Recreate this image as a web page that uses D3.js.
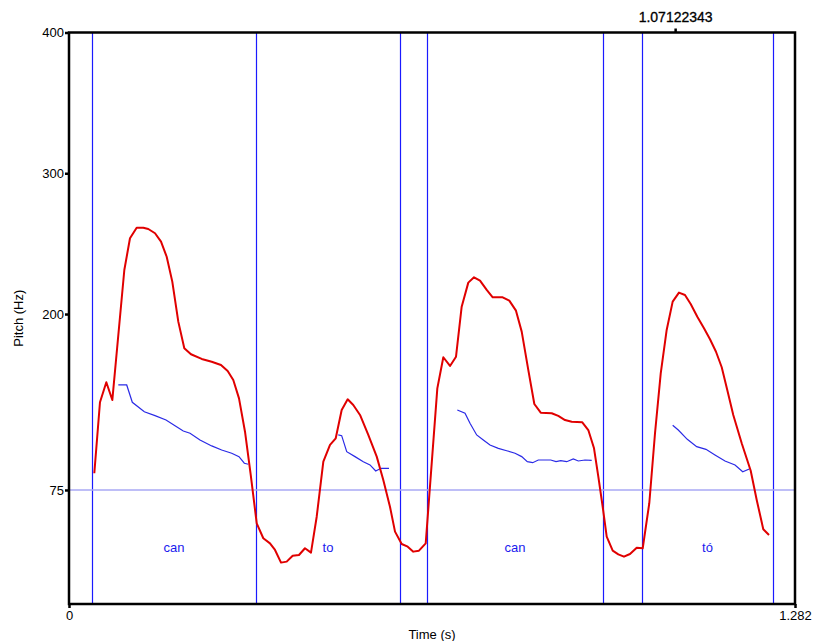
<!DOCTYPE html>
<html>
<head>
<meta charset="utf-8">
<script src="https://cdn.jsdelivr.net/npm/d3@7"></script>
<style>
  body { margin: 0; background: #fff; }
  text { font-family: "Liberation Sans", Arial, sans-serif; }
</style>
</head>
<body>
<script>
var width = 813,
    height = 641,
    margin = {top: 32.5, right: 18, bottom: 37, left: 69};

// pitch contour (red), seconds / Hz
var pitchTime = [0.0447, 0.0547, 0.0659, 0.0765, 0.0977, 0.1077, 0.1195, 0.1312, 0.1400, 0.1519,
    0.1625, 0.1725, 0.1824, 0.1930, 0.2036, 0.2154, 0.2343, 0.2520, 0.2684, 0.2802,
    0.2901, 0.3002, 0.3108, 0.3209, 0.3315, 0.3431, 0.3549, 0.3638, 0.3744, 0.3844,
    0.3950, 0.4061, 0.4167, 0.4273, 0.4374, 0.4491, 0.4609, 0.4710, 0.4815, 0.4921,
    0.5020, 0.5139, 0.5285, 0.5434, 0.5550, 0.5668, 0.5757, 0.5875, 0.5981, 0.6080,
    0.6180, 0.6299, 0.6504, 0.6610, 0.6728, 0.6834, 0.6934, 0.7051, 0.7152, 0.7258,
    0.7376, 0.7482, 0.7658, 0.7775, 0.7893, 0.7994, 0.8111, 0.8217, 0.8330, 0.8524,
    0.8640, 0.8759, 0.8877, 0.9064, 0.9170, 0.9271, 0.9347, 0.9424, 0.9495, 0.9601,
    0.9700, 0.9800, 0.9906, 1.0025, 1.0131, 1.0247, 1.0348, 1.0449, 1.0554, 1.0660,
    1.0771, 1.0877, 1.0978, 1.1095, 1.1213, 1.1319, 1.1425, 1.1526, 1.1624, 1.1730,
    1.1879, 1.2038, 1.2144, 1.2260, 1.2361];
var pitchHz = [86.9, 137.3, 151.5, 138.9, 231.3, 253.8, 261.3, 261.3, 260.4, 257.4,
    251.4, 240.7, 223.0, 194.6, 175.7, 171.4, 168.1, 166.1, 163.8, 159.5,
    153.1, 140.1, 116.4, 85.7, 51.3, 40.7, 37.1, 32.4, 23.4, 24.1,
    28.3, 28.8, 33.6, 30.5, 56.0, 95.1, 107.0, 111.7, 131.8, 139.4,
    135.4, 128.3, 114.1, 98.7, 82.1, 63.1, 45.4, 36.6, 34.7, 31.2,
    31.9, 37.1, 147.2, 169.3, 163.1, 169.7, 205.2, 222.3, 226.1, 223.7,
    217.1, 211.9, 211.9, 209.5, 202.4, 187.5, 160.2, 136.1, 129.9, 129.5,
    127.6, 124.7, 123.5, 123.1, 117.6, 104.6, 84.5, 63.1, 41.8, 31.9,
    29.3, 27.6, 29.5, 34.0, 33.6, 65.6, 115.3, 157.9, 188.7, 208.8,
    215.2, 213.5, 207.1, 198.1, 189.9, 182.1, 173.2, 162.2, 146.0, 128.3,
    108.2, 88.7, 67.9, 47.1, 43.0];

// second contour (blue), one list per syllable
var blueTime = [
    [0.0871, 0.1019, 0.1118, 0.1330, 0.1519, 0.1713, 0.1872, 0.2018, 0.2137, 0.2313, 0.2520, 0.2696, 0.2873, 0.3002, 0.3096, 0.3166],
    [0.4755, 0.4815, 0.4904, 0.5050, 0.5197, 0.5315, 0.5416, 0.5509, 0.5651],
    [0.6857, 0.6993, 0.7081, 0.7199, 0.7316, 0.7434, 0.7581, 0.7729, 0.7876, 0.7994, 0.8093, 0.8188, 0.8287, 0.8405, 0.8506, 0.8600, 0.8683, 0.8789, 0.8905, 0.8994, 0.9112, 0.9230],
    [1.0660, 1.0759, 1.0918, 1.1084, 1.1248, 1.1407, 1.1584, 1.1761, 1.1897, 1.2013]
];
var blueHz = [
    [149.6, 149.6, 137.3, 130.6, 127.8, 124.7, 120.7, 116.9, 115.3, 110.5, 106.3, 103.4, 101.1, 98.7, 94.0, 93.3],
    [114.1, 113.6, 102.2, 98.7, 95.1, 92.8, 88.5, 90.4, 90.4],
    [131.8, 129.5, 122.4, 114.1, 110.5, 107.0, 104.6, 102.9, 101.1, 98.7, 95.1, 94.4, 96.3, 96.3, 96.3, 95.1, 95.8, 95.1, 97.0, 95.6, 96.3, 96.1],
    [121.0, 117.6, 111.0, 105.8, 103.9, 99.9, 95.6, 92.8, 88.0, 89.9]
];

// interval tier
var boundaries = [0.0406, 0.3302, 0.5845, 0.6322, 0.9430, 1.0118, 1.2432];
var syllables = ["can", "to", "", "can", "", "tó"];
var labelHz = 34.5;

var yTicks = [400, 300, 200, 75];
var floorHz = 75;
var xMax = 1.282;
var cursorTime = 1.07122343;
var yMin = -6, yMax = 400;

var svg = d3.select('body').append('svg')
    .attr('width', width)
    .attr('height', height);

var x = d3.scaleLinear().domain([0, xMax]).range([margin.left, width - margin.right]);
var y = d3.scaleLinear().domain([yMin, yMax]).range([height - margin.bottom, margin.top]);

// boundaries
svg.selectAll('line.bnd')
    .data(boundaries)
    .enter().append('line')
    .attr('x1', d => Math.round(x(d)) + 0.5)
    .attr('x2', d => Math.round(x(d)) + 0.5)
    .attr('y1', y(yMax))
    .attr('y2', y(yMin))
    .attr('stroke', '#1a1aff')
    .attr('stroke-width', 1.2);

// 75 Hz floor line
svg.append('line')
    .attr('x1', x(0)).attr('x2', x(xMax))
    .attr('y1', y(floorHz)).attr('y2', y(floorHz))
    .attr('stroke', '#a8a8f4')
    .attr('stroke-width', 1.5);

// syllable labels
svg.selectAll('text.syl')
    .data(syllables.map((s, i) => ({s: s, a: boundaries[i], b: boundaries[i + 1]})).filter(d => d.s))
    .enter().append('text')
    .attr('x', d => x((d.a + d.b) / 2))
    .attr('y', y(labelHz) + 5)
    .attr('text-anchor', 'middle')
    .attr('font-size', 13)
    .attr('fill', '#1a1aee')
    .text(d => d.s);

var line = d3.line().x(d => x(d[0])).y(d => y(d[1]));

// blue contour
blueTime.forEach(function (ts, k) {
    svg.append('path')
        .attr('d', line(ts.map((t, i) => [t, blueHz[k][i]])))
        .attr('fill', 'none')
        .attr('stroke', '#2a2ae6')
        .attr('stroke-width', 1.2);
});

// pitch
svg.append('path')
    .attr('d', line(pitchTime.map((t, i) => [t, pitchHz[i]])))
    .attr('fill', 'none')
    .attr('stroke', '#e00000')
    .attr('stroke-width', 2)
    .attr('stroke-linejoin', 'round');

// frame
svg.append('rect')
    .attr('x', x(0)).attr('y', y(yMax))
    .attr('width', x(xMax) - x(0))
    .attr('height', y(yMin) - y(yMax))
    .attr('fill', 'none')
    .attr('stroke', 'black')
    .attr('stroke-width', 2.5);

// y axis ticks
var yAxis = svg.append('g').attr('transform', 'translate(' + x(0) + ',0)')
    .call(d3.axisLeft(y).tickValues(yTicks).tickSize(4).tickPadding(1).tickFormat(d3.format('d')));
yAxis.select('.domain').remove();
yAxis.selectAll('line').attr('stroke-width', 2.5);
yAxis.selectAll('text').attr('font-size', 13).attr('font-family', '"Liberation Sans", Arial, sans-serif').attr('fill', '#000');

// x axis ticks
var xAxis = svg.append('g').attr('transform', 'translate(0,' + y(yMin) + ')')
    .call(d3.axisBottom(x).tickValues([0, xMax]).tickSize(4).tickPadding(3).tickFormat(d => d === 0 ? '0' : String(xMax)));
xAxis.select('.domain').remove();
xAxis.selectAll('line').attr('stroke-width', 2.5);
xAxis.selectAll('text').attr('font-size', 13).attr('font-family', '"Liberation Sans", Arial, sans-serif').attr('fill', '#000');

// cursor on top
svg.append('line')
    .attr('x1', x(cursorTime)).attr('x2', x(cursorTime))
    .attr('y1', y(yMax) - 4).attr('y2', y(yMax))
    .attr('stroke', 'black').attr('stroke-width', 2.5);
svg.append('text')
    .attr('x', x(cursorTime))
    .attr('y', y(yMax) - 11)
    .attr('text-anchor', 'middle')
    .attr('font-size', 14)
    .attr('stroke', '#000')
    .attr('stroke-width', 0.3)
    .text(cursorTime);

// axis titles
svg.append('text')
    .attr('x', (x(0) + x(xMax)) / 2)
    .attr('y', height - 2)
    .attr('text-anchor', 'middle')
    .attr('font-size', 13)
    .text('Time (s)');

svg.append('text')
    .attr('transform', 'translate(23,' + (y(yMin) + y(yMax)) / 2 + ') rotate(-90)')
    .attr('text-anchor', 'middle')
    .attr('font-size', 13)
    .text('Pitch (Hz)');
</script>
</body>
</html>
